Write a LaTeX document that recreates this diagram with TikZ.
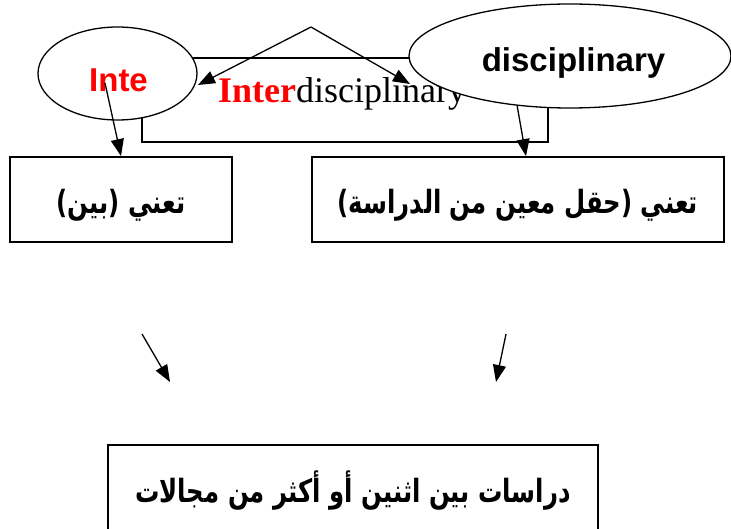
\documentclass[tikz,border=0pt]{standalone}
\usepackage{fontspec}
\usepackage{xcolor}
\usetikzlibrary{shapes.geometric,arrows.meta,calc}
\setmainfont{Liberation Serif}
\setsansfont{Liberation Sans}
\newfontfamily\arabicfont[Script=Arabic,FakeStretch=0.76]{DejaVu Sans}
\TeXXeTstate=1
\tikzset{
  textBox/.style={draw,line width=1.8pt,inner sep=0pt,fill=white},
  frameBox/.style={draw,line width=1.5pt,inner sep=0pt},
  termEllipse/.style={ellipse,draw,line width=1.3pt,fill=white,inner sep=0pt},
  termText/.style={font=\sffamily\bfseries\fontsize{33}{36}\selectfont,inner sep=0pt,anchor=base},
  wordText/.style={font=\fontsize{36}{40}\selectfont,inner sep=0pt,anchor=base},
  arabicText/.style={font=\arabicfont\bfseries\fontsize{32}{36}\selectfont,inner sep=0pt},
  linkArrow/.style={-{Triangle[length=17pt,width=13pt]},line width=1.3pt}
}

\begin{document}
\begin{tikzpicture}[x=1pt,y=-1pt]
  \useasboundingbox (0,0) rectangle (731,529);
  % the word and its two parts
  \node[frameBox,minimum width=406,minimum height=84] (frame) at (345,100) {};
  \node[wordText] (word) at (342,103) {\textcolor{red}{\bfseries Inter}disciplinary};
  \node[termEllipse,minimum width=159,minimum height=93] (inte) at (117.5,73.5) {};
  \node[termEllipse,minimum width=322,minimum height=104] (disc) at (570,56) {};
  \node[termText,text=red] (inteText) at (118.5,92) {Inte};
  \node[termText] (discText) at (573.5,72) {disciplinary};
  % meanings
  \node[textBox,minimum width=222,minimum height=85] (leftBox) at (121,199.5) {};
  \node[arabicText] at ($(leftBox)+(0,6)$) {\beginR تعني (بين)\endR};
  \node[textBox,minimum width=412,minimum height=85] (rightBox) at (518,199.5) {};
  \node[arabicText] at ($(rightBox)+(0,6)$) {\beginR تعني (حقل معين من الدراسة)\endR};
  \node[textBox,minimum width=490,minimum height=87] (bottomBox) at (353,488.5) {};
  \node[arabicText] at ($(bottomBox)+(0,2)$) {\beginR دراسات بين اثنين أو أكثر من مجالات\endR};
  % arrows
  \coordinate (peak) at (311,27);
  \coordinate (inteTip) at (198,85);
  \coordinate (discTip) at (410,84);
  \coordinate (inteStart) at (105,83);
  \coordinate (discStart) at (517,105);
  \coordinate (leftFrom) at (142,334);
  \coordinate (leftTo) at (170,382);
  \coordinate (rightFrom) at (506,334);
  \coordinate (rightTo) at (496,382);
  \draw[linkArrow] (peak) -- (inteTip);
  \draw[linkArrow] (peak) -- (discTip);
  \draw[linkArrow] (inteStart) -- (leftBox.north);
  \draw[linkArrow] (discStart) -- ($(rightBox.north)+(8,0)$);
  \draw[linkArrow] (leftFrom) -- (leftTo);
  \draw[linkArrow] (rightFrom) -- (rightTo);
\end{tikzpicture}
\end{document}
